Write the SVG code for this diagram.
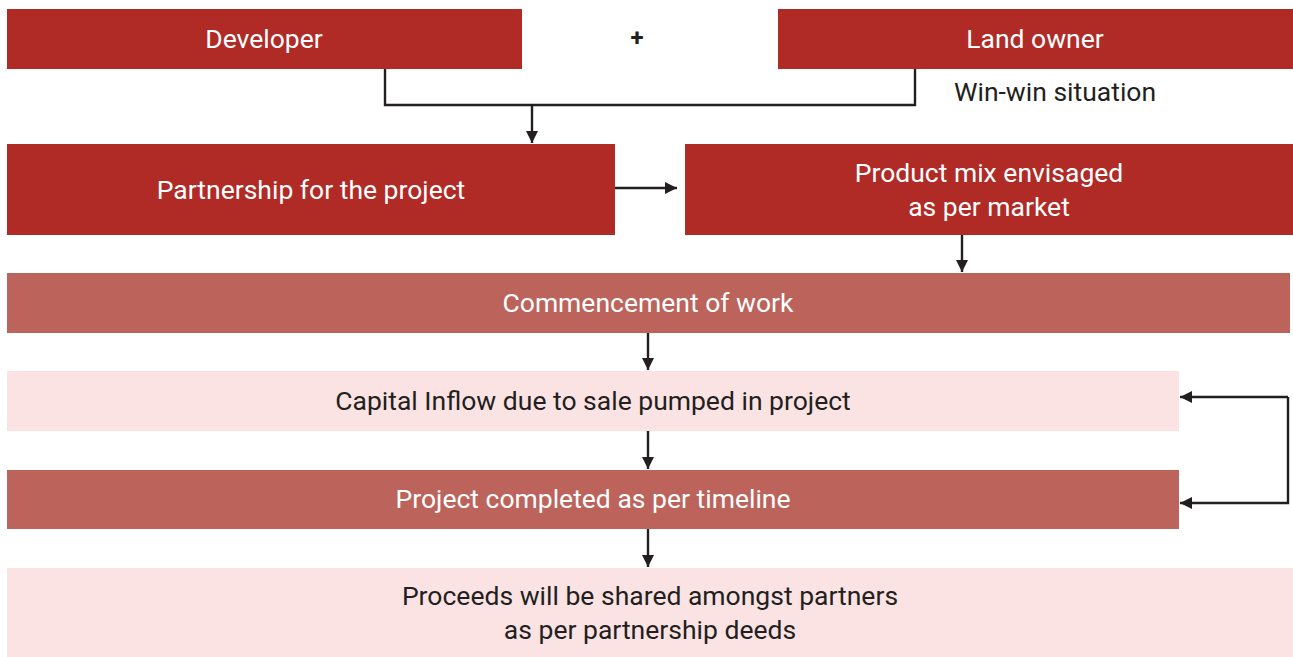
<svg xmlns="http://www.w3.org/2000/svg" width="1293" height="657" viewBox="0 0 1293 657">
  <style>
    .dark { fill: #B02A26; }
    .mid { fill: #BC635B; }
    .light { fill: #FBE3E3; }
    text { font-family: Roboto, "Liberation Sans", sans-serif; font-size: 26.5px; text-anchor: middle; dominant-baseline: central; }
    .wt { fill: #FFFFFF; }
    .bt { fill: #231F20; }
    .wire { fill: none; stroke: #231F20; stroke-width: 2.4; }
  </style>
  <defs>
    <marker id="arrow" viewBox="0 0 12 12" refX="12" refY="6" markerWidth="12" markerHeight="12" markerUnits="userSpaceOnUse" orient="auto">
      <path d="M0,0 L12,6 L0,12 z" fill="#231F20"/>
    </marker>
  </defs>

  <g id="developer">
    <rect class="dark" x="7" y="9" width="515" height="60"/>
    <text class="wt" x="264" y="38.5">Developer</text>
  </g>
  <g id="plus">
    <text class="bt" x="637" y="38" style="font-weight:bold;font-size:24px">+</text>
  </g>
  <g id="land-owner">
    <rect class="dark" x="778" y="9" width="515" height="60"/>
    <text class="wt" x="1035" y="38.5">Land owner</text>
  </g>
  <g id="win-win">
    <text class="bt" x="1055" y="91.5">Win-win situation</text>
  </g>
  <g id="partnership">
    <rect class="dark" x="7" y="144" width="608" height="91"/>
    <text class="wt" x="311" y="189.5">Partnership for the project</text>
  </g>
  <g id="product-mix">
    <rect class="dark" x="685" y="144" width="608" height="91"/>
    <text class="wt" x="989" y="172.5">Product mix envisaged</text>
    <text class="wt" x="989" y="206.5">as per market</text>
  </g>
  <g id="commencement">
    <rect class="mid" x="7" y="273" width="1283" height="60"/>
    <text class="wt" x="648" y="302.5">Commencement of work</text>
  </g>
  <g id="capital-inflow">
    <rect class="light" x="7" y="371" width="1172" height="60"/>
    <text class="bt" x="593" y="400.5">Capital Inflow due to sale pumped in project</text>
  </g>
  <g id="completed">
    <rect class="mid" x="7" y="470" width="1172" height="59"/>
    <text class="wt" x="593" y="498.5">Project completed as per timeline</text>
  </g>
  <g id="proceeds">
    <rect class="light" x="7" y="568" width="1286" height="89"/>
    <text class="bt" x="650" y="595.5">Proceeds will be shared amongst partners</text>
    <text class="bt" x="650" y="629.5">as per partnership deeds</text>
  </g>

  <g id="connectors">
    <path class="wire" d="M385,69 V105 H915 V69"/>
    <path class="wire" d="M532,105 V143" marker-end="url(#arrow)"/>
    <path class="wire" d="M615,188 H677" marker-end="url(#arrow)"/>
    <path class="wire" d="M962,235 V272" marker-end="url(#arrow)"/>
    <path class="wire" d="M648,333 V370" marker-end="url(#arrow)"/>
    <path class="wire" d="M648,431 V469" marker-end="url(#arrow)"/>
    <path class="wire" d="M648,529 V567" marker-end="url(#arrow)"/>
    <path class="wire" d="M1288,397 H1180" marker-end="url(#arrow)"/>
    <path class="wire" d="M1288,397 V503 H1180" marker-end="url(#arrow)"/>
  </g>
</svg>
